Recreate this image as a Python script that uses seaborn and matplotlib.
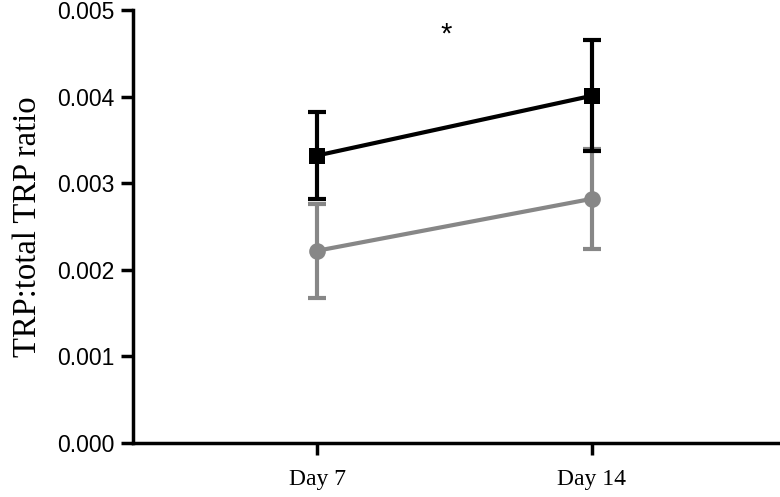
import matplotlib
matplotlib.use('Agg')
import matplotlib.pyplot as plt
import numpy as np
import pandas as pd
import seaborn as sns

# valori (media e barra di errore)
days = ['Day 7', 'Day 14']
gray_mean = [0.00222, 0.00282]
gray_err = [0.00054, 0.00058]
black_mean = [0.00332, 0.00401]
black_err = [0.00050, 0.00064]
y_ticks = [0.000, 0.001, 0.002, 0.003, 0.004, 0.005]

df = pd.DataFrame({
    'day': days * 2,
    'ratio': gray_mean + black_mean,
    'err': gray_err + black_err,
    'group': ['gray'] * 2 + ['black'] * 2,
})

sns.set_style('white')
plt.rcParams['font.family'] = ['Liberation Sans', 'DejaVu Sans']
plt.rcParams['text.color'] = 'black'
plt.rcParams['xtick.color'] = 'black'
plt.rcParams['ytick.color'] = 'black'
plt.rcParams['axes.labelcolor'] = 'black'

fig = plt.figure(figsize=(7.8, 4.97), dpi=100)
ax = fig.add_axes([0.1705, 0.1087, 0.8295, 0.871])

colors = {'gray': '#878787', 'black': '#000000'}
markers = {'gray': 'o', 'black': 's'}

# linee con marker
sns.lineplot(data=df, x='day', y='ratio', hue='group', style='group',
             palette=colors, markers=markers, dashes=False, linewidth=3,
             markersize=12, markeredgewidth=0, legend=False, ax=ax)

# barre di errore
x_pos = np.arange(len(days))
for g in ['gray', 'black']:
    sub = df[df['group'] == g]
    ax.errorbar(x_pos, sub['ratio'], yerr=sub['err'], fmt='none',
                ecolor=colors[g], elinewidth=3, capsize=6.5, capthick=3,
                zorder=2 if g == 'gray' else 4)
# rimettere sopra la linea nera
for line in ax.lines:
    if matplotlib.colors.to_hex(line.get_color()) == '#000000':
        line.set_zorder(5)

# asterisco
ax.text(0.47, 0.00472, '*', ha='center', va='center', fontsize=21)

ax.set_xlim(-0.67, 1.685)
ax.set_ylim(0, 0.005)
ax.set_yticks(y_ticks)
ax.set_yticklabels(['%.3f' % v for v in y_ticks], fontsize=16.5)
ax.set_xticks(x_pos)
ax.set_xticklabels(days, fontsize=17, family='Liberation Serif')
ax.set_xlabel('')
ax.set_ylabel('TRP:total TRP ratio', fontsize=23.5, family='Liberation Serif', labelpad=10)

sns.despine(ax=ax)
for s in ['left', 'bottom']:
    ax.spines[s].set_linewidth(2.5)
    ax.spines[s].set_color('black')
ax.tick_params(axis='both', direction='out', length=8.5, width=2.5,
               color='black', left=True, bottom=True)
ax.tick_params(axis='y', pad=5)
ax.tick_params(axis='x', pad=10)

plt.savefig('out.png', dpi=100)
plt.close()
